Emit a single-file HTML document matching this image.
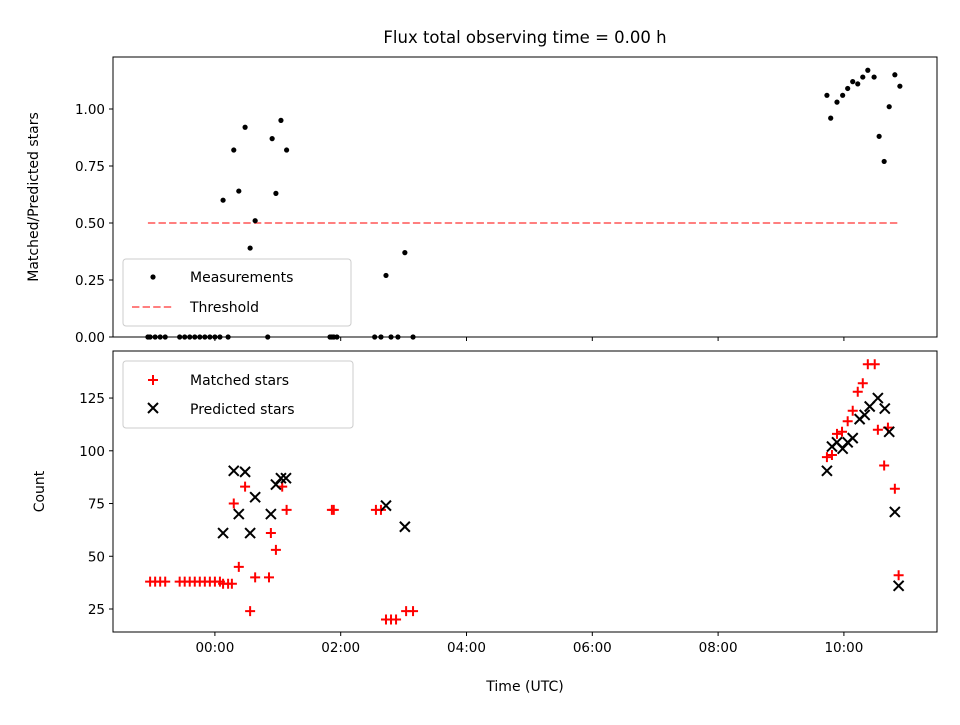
<!DOCTYPE html>
<html><head><meta charset="utf-8"><style>
body{margin:0;background:#fff}
svg text{font-family:"DejaVu Sans","Liberation Sans",sans-serif;fill:#000}
</style></head><body>
<svg id="c" width="960" height="720"></svg>
<script>
const ratioT=[-1.065,-1.03,-0.95,-0.87,-0.79,-0.56,-0.48,-0.40,-0.32,-0.24,-0.16,-0.08,0,0.08,0.21,0.84,1.83,1.86,1.89,1.94,2.54,2.64,2.80,2.91,3.15,0.13,0.30,0.48,0.38,0.64,0.56,0.91,0.97,1.05,1.14,2.72,3.02,9.73,9.79,9.89,9.98,10.06,10.14,10.22,10.30,10.38,10.48,10.56,10.64,10.72,10.81,10.89];
const ratioV=[0,0,0,0,0,0,0,0,0,0,0,0,0,0,0,0,0,0,0,0,0,0,0,0,0,0.60,0.82,0.92,0.64,0.51,0.39,0.87,0.63,0.95,0.82,0.27,0.37,1.06,0.96,1.03,1.06,1.09,1.12,1.11,1.14,1.17,1.14,0.88,0.77,1.01,1.15,1.10];
const matchedT=[-1.03,-0.95,-0.87,-0.79,-0.56,-0.48,-0.40,-0.32,-0.24,-0.16,-0.08,0,0.08,0.13,0.21,0.27,0.48,0.30,0.38,0.56,0.64,0.86,0.89,0.97,1.07,1.14,1.86,1.89,2.56,2.64,2.72,2.80,2.88,3.04,3.15,10.38,10.49,10.30,10.22,10.14,10.06,9.97,9.89,9.81,9.73,10.54,10.70,10.64,10.81,10.87];
const matchedV=[38,38,38,38,38,38,38,38,38,38,38,38,38,37,37,37,83,75,45,24,40,40,61,53,83,72,72,72,72,72,20,20,20,24,24,141,141,132,128,119,114,109,108,98,97,110,111,93,82,41];
const predT=[0.30,0.48,0.64,0.38,0.89,0.13,0.56,0.97,1.05,1.13,2.72,3.02,9.73,9.81,9.89,9.98,10.06,10.14,10.25,10.33,10.41,10.54,10.65,10.72,10.81,10.87];
const predV=[90.5,90,78,70,70,61,61,84,87,87,74,64,90.5,102,104,101,104,106,115,117,121,125,120,109,71,36];
const xTicks=[0,2,4,6,8,10];
const xTickLabels=["00:00","02:00","04:00","06:00","08:00","10:00"];
const yTopTicks=[0,0.25,0.5,0.75,1.0];
const yTopLabels=["0.00","0.25","0.50","0.75","1.00"];
const yBotTicks=[25,50,75,100,125];
const threshold=0.5, thrStart=-1.065, thrEnd=10.89;

const NS="http://www.w3.org/2000/svg";
const svg=document.getElementById('c');
function el(tag,attrs,parent){const e=document.createElementNS(NS,tag);for(const k in attrs)e.setAttribute(k,attrs[k]);(parent||svg).appendChild(e);return e;}
const L=113,R=937,T1=57,B1=337,T2=351,B2=632;
const xMin=-1.62,xMax=11.48;
const X=h=>L+(h-xMin)/(xMax-xMin)*(R-L);
const Y1=v=>B1-(v/1.228)*(B1-T1);
const Y2=v=>B2-(v-14.1)/(147.3-14.1)*(B2-T2);

// title
let t=el('text',{x:525,y:43,'font-size':16.5,'text-anchor':'middle'});t.textContent="Flux total observing time = 0.00 h";


// threshold
let th=el('line',{x1:X(thrStart),x2:X(thrEnd),y1:Y1(threshold),y2:Y1(threshold),stroke:'#ff7f7f','stroke-width':2,'stroke-dasharray':'7.4,3.2'});

// ratio points
ratioT.forEach((h,i)=>{const c=el('circle',{cx:X(h),cy:Y1(ratioV[i]),r:2.6,fill:'#000'});
});
// matched
matchedT.forEach((h,i)=>{const x=X(h),y=Y2(matchedV[i]);const p=el('path',{d:`M${x-5},${y}H${x+5}M${x},${y-5}V${y+5}`,stroke:'#f00','stroke-width':2});
});
predT.forEach((h,i)=>{const x=X(h),y=Y2(predV[i]);const p=el('path',{d:`M${x-5},${y-5}L${x+5},${y+5}M${x-5},${y+5}L${x+5},${y-5}`,stroke:'#000','stroke-width':2});
});

// frames
[[T1,B1,'top-axes-frame'],[T2,B2,'bottom-axes-frame']].forEach(([a,b,n])=>{const r=el('rect',{x:L,y:a,width:R-L,height:b-a,fill:'none',stroke:'#000','stroke-width':1});
});
// x ticks
xTicks.forEach((h,i)=>{const x=X(h);
el('line',{x1:x,x2:x,y1:B1,y2:B1+4,stroke:'#000'});
el('line',{x1:x,x2:x,y1:B2,y2:B2+4,stroke:'#000'});
const tx=el('text',{x:x,y:B2+20,'font-size':13.5,'text-anchor':'middle'});tx.textContent=xTickLabels[i];
});
yTopTicks.forEach((v,i)=>{const y=Y1(v);el('line',{x1:L-4,x2:L,y1:y,y2:y,stroke:'#000'});
const tx=el('text',{x:L-8,y:y+5,'font-size':13.5,'text-anchor':'end'});tx.textContent=yTopLabels[i];
});
yBotTicks.forEach(v=>{const y=Y2(v);el('line',{x1:L-4,x2:L,y1:y,y2:y,stroke:'#000'});
const tx=el('text',{x:L-8,y:y+5,'font-size':13.5,'text-anchor':'end'});tx.textContent=v;
});
// axis titles
let a1=el('text',{x:0,y:0,'font-size':14,'text-anchor':'middle',transform:`translate(38,${(T1+B1)/2}) rotate(-90)`});a1.textContent="Matched/Predicted stars";

let a2=el('text',{x:0,y:0,'font-size':14,'text-anchor':'middle',transform:`translate(44,${(T2+B2)/2}) rotate(-90)`});a2.textContent="Count";

let a3=el('text',{x:(L+R)/2,y:691,'font-size':14,'text-anchor':'middle'});a3.textContent="Time (UTC)";


// legends
let lg1=el('g',{});
el('rect',{x:123,y:259,width:228,height:67,rx:3,fill:'#fff','fill-opacity':0.8,stroke:'#ccc'},lg1);
el('circle',{cx:153,cy:277,r:2.6,fill:'#000'},lg1);
let s=el('text',{x:190,y:282,'font-size':14},lg1);s.textContent="Measurements";
el('line',{x1:132,x2:174,y1:307,y2:307,stroke:'#ff7f7f','stroke-width':2,'stroke-dasharray':'7.4,3.2'},lg1);
s=el('text',{x:190,y:312,'font-size':14},lg1);s.textContent="Threshold";

let lg2=el('g',{});
el('rect',{x:123,y:361,width:230,height:67,rx:3,fill:'#fff','fill-opacity':0.8,stroke:'#ccc'},lg2);
el('path',{d:'M148,380H158M153,375V385',stroke:'#f00','stroke-width':2},lg2);
s=el('text',{x:190,y:385,'font-size':14},lg2);s.textContent="Matched stars";
el('path',{d:'M148,403L158,413M148,413L158,403',stroke:'#000','stroke-width':2},lg2);
s=el('text',{x:190,y:414,'font-size':14},lg2);s.textContent="Predicted stars";
</script>
</body></html>
